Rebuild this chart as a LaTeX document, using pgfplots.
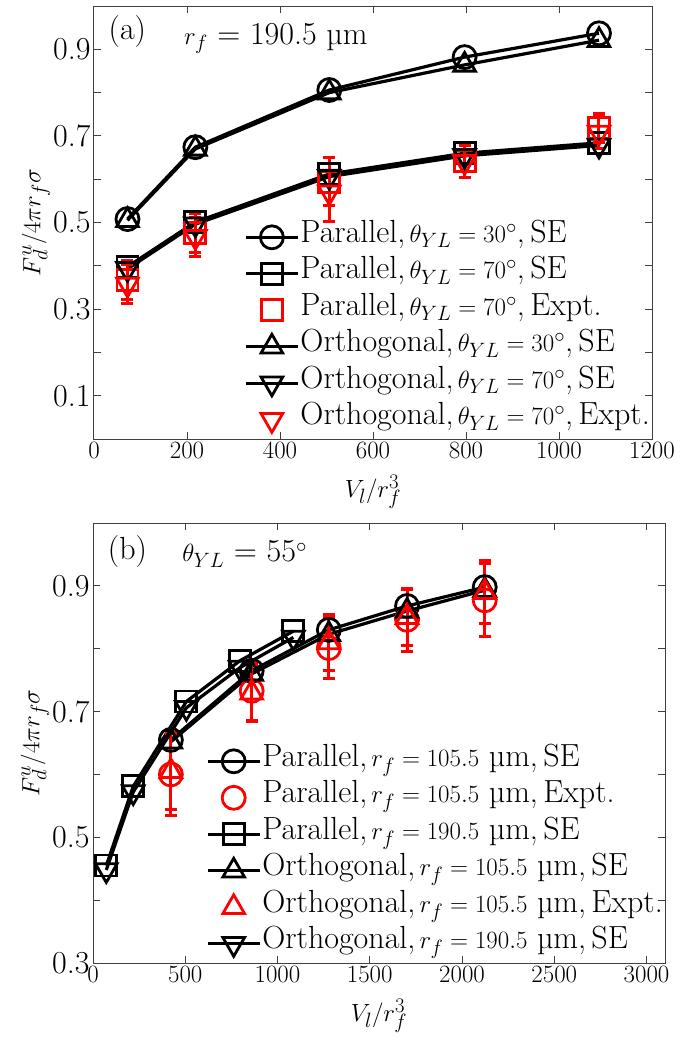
\documentclass[border=0pt]{standalone}
\usepackage{fontspec}
\usepackage{pgfplots}
\pgfplotsset{compat=1.18}
\newcommand{\fs}{\fontsize{32}{36}\selectfont}
\pgfplotsset{
  mystyle/.style={
    scale only axis,
    axis line style={line width=1pt, black!75},
    tick style={line width=1pt, black!75},
    major tick length=7pt,
    tick align=inside,
    xtick pos=both, ytick pos=both,
    tick label style={font=\fs},
    xticklabel style={/pgf/number format/1000 sep={}},
    label style={font=\fs},
    every axis plot/.append style={line width=3.2pt},
    legend cell align=left,
    legend style={at={(1,0)}, anchor=south east, draw=none, fill=none, font=\fs,
      inner sep=1pt, row sep=0.5pt, column sep=0pt,
      nodes={inner sep=1pt, text height=22pt, text depth=12pt}},
    legend image code/.code={\draw[mark repeat=2,mark phase=2,#1] plot coordinates {(0pt,0pt)(26pt,0pt)(52pt,0pt)};},
  },
  seP/.style={black, mark=o, mark size=11.5pt, mark options={line width=2.8pt, solid}},
  seS/.style={black, mark=square, mark size=10.5pt, mark options={line width=2.8pt, solid}},
  seT/.style={black, mark=triangle, mark size=12.5pt, mark options={line width=2.8pt, solid}},
  seD/.style={black, mark=triangle, mark size=12.5pt, mark options={line width=2.8pt, solid, rotate=180}},
  exErr/.style={error bars/.cd, y dir=both, y explicit,
    error bar style={line width=3pt, red},
    error mark options={rotate=90, mark size=6pt, line width=3pt, red}},
}
\begin{document}
\begin{tikzpicture}[x=1pt,y=1pt]
\useasboundingbox (0,0) rectangle (688,-1042);
% ---------------- panel (a)
\begin{axis}[mystyle,
  at={(94pt,-439pt)}, anchor=south west,
  width=558pt, height=433pt,
  xmin=0, xmax=1200, ymin=0, ymax=1,
  xtick={0,200,...,1200},
  ytick={0,0.1,...,1.0},
  yticklabels={,0.1,,0.3,,0.5,,0.7,,0.9,},
  xlabel={$V_l/r_f^3$},
  ylabel={$F_d^u/4\pi r_f\sigma$},
  xlabel style={yshift=-10pt},
  ylabel style={yshift=-4pt},
]
\addplot[seP] coordinates {(72,0.508) (218,0.674) (506,0.806) (797,0.882) (1086,0.937)};
\addlegendentry{Parallel,$\,\theta_{YL}=30^{\circ}$,\,SE}
\addplot[seS] coordinates {(72,0.398) (218,0.501) (506,0.612) (797,0.660) (1086,0.684)};
\addlegendentry{Parallel,$\,\theta_{YL}=70^{\circ}$,\,SE}
\addplot[red, only marks, mark=square, mark size=10.5pt, mark options={line width=2.8pt, red}, exErr]
  coordinates {(72,0.367) +- (0,0.045) (218,0.476) +- (0,0.045) (506,0.594) +- (0,0.055) (797,0.642) +- (0,0.037) (1086,0.718) +- (0,0.033)};
\addlegendentry{Parallel,$\,\theta_{YL}=70^{\circ}$,\,Expt.}
\addplot[seT] coordinates {(72,0.505) (218,0.670) (506,0.800) (797,0.864) (1086,0.921)};
\addlegendentry{Orthogonal,$\,\theta_{YL}=30^{\circ}$,\,SE}
\addplot[seD] coordinates {(72,0.393) (218,0.496) (506,0.606) (797,0.654) (1086,0.678)};
\addlegendentry{Orthogonal,$\,\theta_{YL}=70^{\circ}$,\,SE}
\addplot[red, only marks, mark=triangle, mark size=12.5pt, mark options={line width=2.8pt, red, rotate=180}, exErr]
  coordinates {(72,0.357) +- (0,0.045) (218,0.467) +- (0,0.045) (506,0.570) +- (0,0.067) (797,0.640) +- (0,0.037) (1086,0.708) +- (0,0.037)};
\addlegendentry{Orthogonal,$\,\theta_{YL}=70^{\circ}$,\,Expt.}
\node[font=\fs, anchor=west] at (rel axis cs:0.02,0.94) {(a)};
\node[font=\fs, anchor=west] at (rel axis cs:0.155,0.925) {$r_f$ = 190.5 µm};
\end{axis}
% ---------------- panel (b)
\begin{axis}[mystyle,
  at={(93pt,-963pt)}, anchor=south west,
  width=572pt, height=440pt,
  xmin=0, xmax=3100, ymin=0.3, ymax=1,
  xtick={0,500,...,3000},
  ytick={0.3,0.4,...,1.0},
  yticklabels={0.3,,0.5,,0.7,,0.9,},
  xlabel={$V_l/r_f^3$},
  ylabel={$F_d^u/4\pi r_f\sigma$},
  xlabel style={yshift=-10pt},
  ylabel style={yshift=-4pt},
]
\addplot[seP] coordinates {(422,0.655) (860,0.765) (1278,0.830) (1702,0.868) (2123,0.898)};
\addlegendentry{Parallel,$\,r_f=105.5$ µm,\,SE}
\addplot[red, only marks, mark=o, mark size=11.5pt, mark options={line width=2.8pt, red}, exErr]
  coordinates {(422,0.600) +- (0,0.066) (860,0.733) +- (0,0.047) (1278,0.801) +- (0,0.048) (1702,0.846) +- (0,0.050) (2123,0.877) +- (0,0.058)};
\addlegendentry{Parallel,$\,r_f=105.5$ µm,\,Expt.}
\addplot[seS] coordinates {(72,0.455) (218,0.581) (506,0.716) (797,0.781) (1086,0.828)};
\addlegendentry{Parallel,$\,r_f=190.5$ µm,\,SE}
\addplot[seT] coordinates {(422,0.652) (860,0.760) (1278,0.823) (1702,0.860) (2123,0.893)};
\addlegendentry{Orthogonal,$\,r_f=105.5$ µm,\,SE}
\addplot[red, only marks, mark=triangle, mark size=12.5pt, mark options={line width=2.8pt, red}, exErr]
  coordinates {(422,0.605) +- (0,0.060) (860,0.730) +- (0,0.045) (1278,0.810) +- (0,0.045) (1702,0.850) +- (0,0.045) (2123,0.890) +- (0,0.050)};
\addlegendentry{Orthogonal,$\,r_f=105.5$ µm,\,Expt.}
\addplot[seD] coordinates {(72,0.448) (218,0.572) (506,0.706) (797,0.770) (1086,0.818)};
\addlegendentry{Orthogonal,$\,r_f=190.5$ µm,\,SE}
\node[font=\fs, anchor=west] at (rel axis cs:0.02,0.935) {(b)};
\node[font=\fs, anchor=west] at (rel axis cs:0.15,0.93) {$\theta_{YL}$ = 55$^{\circ}$};
\end{axis}
\end{tikzpicture}
\end{document}
